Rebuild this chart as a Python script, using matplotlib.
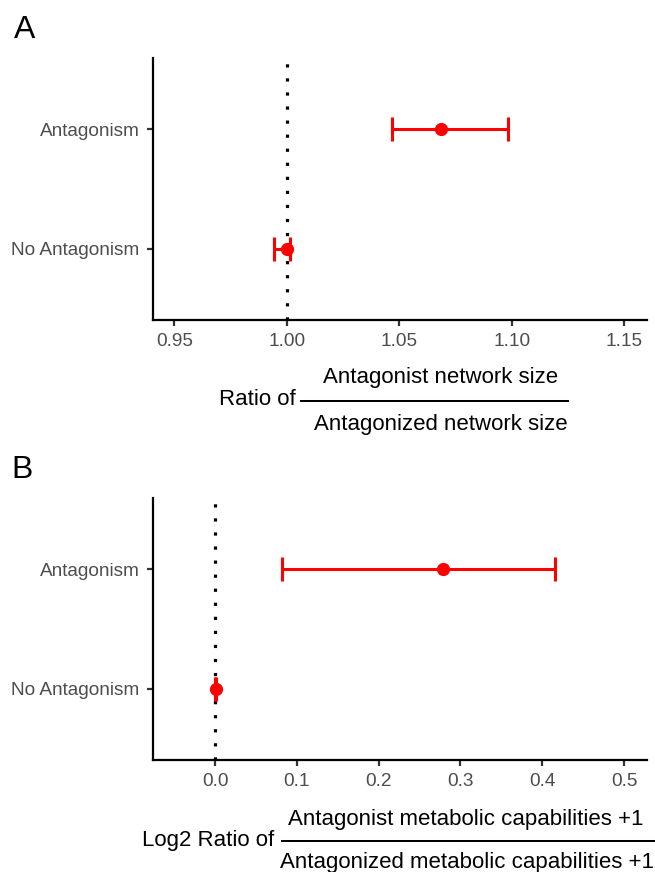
import matplotlib
matplotlib.use('Agg')
import matplotlib.pyplot as plt
from matplotlib.lines import Line2D

plt.rcParams['font.family'] = ['Liberation Sans', 'DejaVu Sans']

# ---------------- data ----------------
categories = ["Antagonism", "No Antagonism"]

ratio_mean = [1.0686, 1.0000]
ratio_low = [1.0467, 0.9945]
ratio_high = [1.0986, 1.0015]

log2_mean = [0.2791, 0.0008]
log2_low = [0.0815, 0.0000]
log2_high = [0.4157, 0.0016]

ratio_ticks = [0.95, 1.00, 1.05, 1.10, 1.15]
log2_ticks = [0.0, 0.1, 0.2, 0.3, 0.4, 0.5]

ratio_ref = 1.0
log2_ref = 0.0

# ---------------- layout ----------------
W, H = 655, 872
fig = plt.figure(figsize=(W / 100, H / 100), dpi=100)


def px_axes(x0, y0, x1, y1):
    return fig.add_axes([x0 / W, 1 - y1 / H, (x1 - x0) / W, (y1 - y0) / H])


def fx(x):
    return x / W


def fy(y):
    return 1 - y / H


RED = '#FF0000'
TICK_COL = '#4D4D4D'


def draw_panel(ax, mean, low, high, ref, xlim, ticks, fmt):
    ypos = list(range(len(categories)))
    xerr = [[m - l for m, l in zip(mean, low)], [h - m for m, h in zip(mean, high)]]
    ax.axvline(ref, color='black', lw=2.3, linestyle=(0, (1, 3.4)),
               dash_capstyle='butt', zorder=1)
    ax.errorbar(mean, ypos, xerr=xerr, fmt='o', color=RED, ecolor=RED,
                elinewidth=2.2, capsize=8.3, capthick=2.2, markersize=8.5,
                zorder=3)
    ax.set_xlim(*xlim)
    ax.set_ylim(len(categories) - 0.4, -0.6)
    ax.set_yticks(ypos)
    ax.set_yticklabels(categories)
    ax.set_xticks(ticks)
    ax.set_xticklabels([fmt.format(t) for t in ticks])
    for s in ['top', 'right']:
        ax.spines[s].set_visible(False)
    for s in ['left', 'bottom']:
        ax.spines[s].set_linewidth(1.6)
        ax.spines[s].set_color('black')
        ax.spines[s].set_capstyle('projecting')
    ax.tick_params(axis='both', which='major', length=4.3, width=1.6,
                   color='#333333', labelcolor=TICK_COL, labelsize=13.7)
    ax.tick_params(axis='x', pad=5)
    ax.tick_params(axis='y', pad=5.5)
    ax.set_facecolor('white')


axA = px_axes(153, 58, 647, 320)
draw_panel(axA, ratio_mean, ratio_low, ratio_high, ratio_ref,
           (0.94054, 1.1602), ratio_ticks, '{:.2f}')

axB = px_axes(153, 498, 647, 760)
draw_panel(axB, log2_mean, log2_low, log2_high, log2_ref,
           (-0.0758, 0.5281), log2_ticks, '{:.1f}')

# panel letters
fig.text(fx(14), fy(38), 'A', fontsize=23, ha='left', va='baseline')
fig.text(fx(11), fy(478), 'B', fontsize=23, ha='left', va='baseline')

# fraction label A
fig.text(fx(441), fy(383), 'Antagonist network size', fontsize=16,
         ha='center', va='baseline')
fig.text(fx(441), fy(430), 'Antagonized network size', fontsize=16,
         ha='center', va='baseline')
fig.text(fx(296), fy(405), 'Ratio of', fontsize=16, ha='right', va='baseline')
fig.add_artist(Line2D([fx(301), fx(568)], [fy(401), fy(401)],
                      transform=fig.transFigure, color='black', lw=1.45))

# fraction label B
fig.text(fx(466), fy(825), 'Antagonist metabolic capabilities +1', fontsize=16,
         ha='center', va='baseline')
fig.text(fx(467), fy(868), 'Antagonized metabolic capabilities +1', fontsize=16,
         ha='center', va='baseline')
fig.text(fx(274), fy(846), 'Log2 Ratio of', fontsize=16, ha='right',
         va='baseline')
fig.add_artist(Line2D([fx(282), fx(656)], [fy(841), fy(841)],
                      transform=fig.transFigure, color='black', lw=1.45))

fig.savefig('out.png', dpi=100, facecolor='white')
